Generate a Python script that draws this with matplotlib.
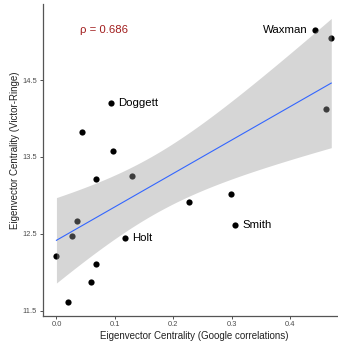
import numpy as np
import matplotlib
matplotlib.use("Agg")
import matplotlib.pyplot as plt

plt.rcParams['font.family'] = ['Liberation Sans', 'DejaVu Sans']

# Data
google = [0.093, 0.043, 0.096, 0.067, 0.129, 0.035, 0.026, 0.117, 0.000,
          0.068, 0.059, 0.020, 0.227, 0.298, 0.306, 0.443, 0.470, 0.461]
victor = [14.20, 13.83, 13.58, 13.21, 13.25, 12.67, 12.47, 12.44, 12.21,
          12.11, 11.88, 11.62, 12.92, 13.02, 12.62, 15.15, 15.05, 14.13]
label_names = ['Doggett', 'Holt', 'Smith', 'Waxman']
label_index = [0, 7, 14, 15]
label_side = ['right', 'right', 'right', 'left']
rho_text = 'ρ = 0.686'
xticks = [0.0, 0.1, 0.2, 0.3, 0.4]
xticklabels = ['0.0', '0.1', '0.2', '0.3', '0.4']
yticks = [11.5, 12.5, 13.5, 14.5]
yticklabels = ['11.5', '12.5', '13.5', '14.5']
t_crit = 2.120  # t(0.975, df=16)

x = np.array(google)
y = np.array(victor)
n = len(x)
b, a = np.polyfit(x, y, 1)
xs = np.linspace(x.min(), x.max(), 200)
ys = a + b * xs
resid = y - (a + b * x)
s = np.sqrt(np.sum(resid ** 2) / (n - 2))
sxx = np.sum((x - x.mean()) ** 2)
se = s * np.sqrt(1 / n + (xs - x.mean()) ** 2 / sxx)
lo = ys - t_crit * se
hi = ys + t_crit * se

W, H = 338, 347
fig = plt.figure(figsize=(W / 100, H / 100), dpi=100)
ax = fig.add_axes([42.7 / W, 1 - 315.7 / H, (345 - 42.7) / W, (315.7 - 4.3) / H])

ax.scatter(x, y, s=20, color='black', zorder=2, linewidths=0)
ax.fill_between(xs, lo, hi, color='#999999', alpha=0.4, linewidth=0, zorder=3)
ax.plot(xs, ys, color='#3366FF', lw=0.8, zorder=4)

for name, idx, side in zip(label_names, label_index, label_side):
    if side == 'right':
        ax.annotate(name, (x[idx], y[idx]), xytext=(5, 0), textcoords='offset points',
                    ha='left', va='center', fontsize=8.2, color='black', zorder=5)
    else:
        ax.annotate(name, (x[idx], y[idx]), xytext=(-5.5, 0), textcoords='offset points',
                    ha='right', va='center', fontsize=8.2, color='black', zorder=5)

ax.text(0.040, 15.15, rho_text, fontsize=8.2, color='#A11D1D', ha='left', va='center')

xr = x.max() - x.min()
ylo = min(y.min(), lo.min()); yhi = max(y.max(), hi.max())
yr = yhi - ylo
ax.set_xlim(x.min() - 0.05 * xr, x.max() + 0.05 * xr)
ax.set_ylim(ylo - 0.05 * yr, yhi + 0.05 * yr)

ax.set_xticks(xticks)
ax.set_xticklabels(xticklabels)
ax.set_yticks(yticks)
ax.set_yticklabels(yticklabels)
ax.tick_params(axis='both', length=2.5, width=0.6, color='#333333',
               labelsize=5.4, labelcolor='#4D4D4D', pad=1.5)
for sp in ['top', 'right']:
    ax.spines[sp].set_visible(False)
for sp in ['left', 'bottom']:
    ax.spines[sp].set_color('#555555')
    ax.spines[sp].set_linewidth(0.9)

ax.set_xlabel('Eigenvector Centrality (Google correlations)', fontsize=7.0, color='#222222', labelpad=2)
ax.set_ylabel('Eigenvector Centrality (Victor-Ringe)', fontsize=7.0, color='#222222')
ax.yaxis.set_label_coords(-0.075, 0.53)

fig.savefig('out.png', dpi=100)
